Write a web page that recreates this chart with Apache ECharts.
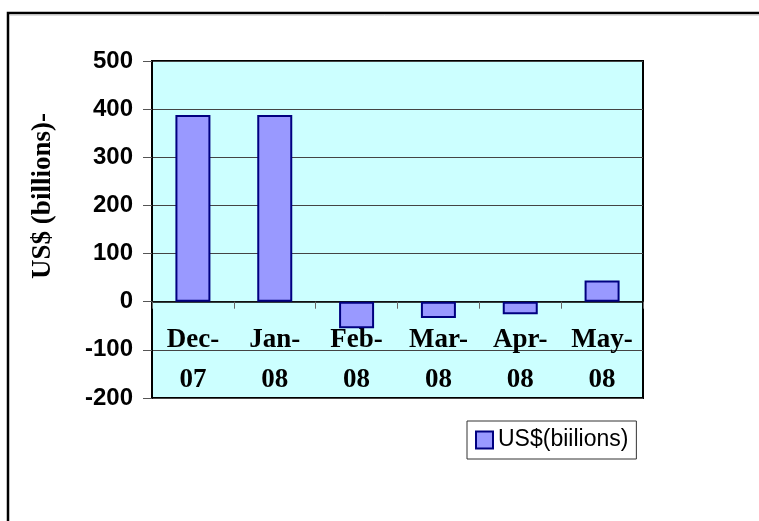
<!DOCTYPE html>
<html>
<head>
<meta charset="utf-8">
<script src="https://cdn.jsdelivr.net/npm/echarts@6/dist/echarts.min.js"></script>
<style>
  html, body { margin: 0; padding: 0; background: #fff; }
  #chart1 { width: 759px; height: 521px; }
</style>
</head>
<body>
<div id="chart1"></div>
<script>
var months = ['Dec-07', 'Jan-08', 'Feb-08', 'Mar-08', 'Apr-08', 'May-08'];
var values = [388, 388, -55, -34, -26, 44];
var seriesName = 'US$(biilions)';
var axisTitle = 'US$ (billions)-';

var chart1 = echarts.init(document.getElementById("chart1"));
chart1.setOption({
    animation: false,
    backgroundColor: '#fff',
    graphic: [
        {
            // outer frame (only top and left edges show)
            type: 'polyline',
            shape: { points: [[8, 521], [8, 13], [759, 13]] },
            style: { stroke: '#000', lineWidth: 2.5, fill: null }
        },
        {
            type: 'line',
            shape: { x1: 10, y1: 15.5, x2: 759, y2: 15.5 },
            style: { stroke: '#ddd', lineWidth: 1 }
        },
        {
            // value axis title
            type: 'text',
            x: 43,
            y: 196,
            rotation: Math.PI / 2,
            style: {
                text: axisTitle,
                fontFamily: 'Liberation Serif, Times New Roman, serif',
                fontWeight: 'bold',
                fontSize: 27,
                fill: '#000',
                align: 'center',
                verticalAlign: 'middle'
            }
        }
    ],
    grid: {
        left: 152,
        top: 61,
        width: 491,
        height: 337,
        show: true,
        backgroundColor: '#ccffff',
        borderColor: '#000',
        borderWidth: 2
    },
    legend: {
        left: 467,
        top: 421,
        padding: [5, 8, 5, 8],
        borderColor: '#333',
        borderWidth: 1,
        backgroundColor: '#fff',
        itemWidth: 17,
        itemHeight: 17,
        itemGap: 4,
        icon: 'rect',
        textStyle: {
            fontFamily: 'Liberation Sans, Arial, sans-serif',
            fontSize: 23,
            color: '#000',
            lineHeight: 28
        },
        data: [seriesName]
    },
    xAxis: {
        type: 'category',
        data: months,
        axisLine: { onZero: true, lineStyle: { color: '#000', width: 1.5 } },
        axisTick: { show: true, length: 7, lineStyle: { color: '#666' } },
        axisLabel: {
            margin: -78,
            fontFamily: 'Liberation Serif, Times New Roman, serif',
            fontWeight: 'bold',
            fontSize: 27,
            lineHeight: 40,
            color: '#000',
            formatter: function (v) {
                var p = v.split('-');
                return p[0] + '-\n' + p[1];
            }
        },
        splitLine: { show: false }
    },
    yAxis: {
        type: 'value',
        min: -200,
        max: 500,
        interval: 100,
        axisLine: { show: true, lineStyle: { color: '#000', width: 2 } },
        axisTick: { show: true, length: 9, lineStyle: { color: '#555' } },
        axisLabel: {
            margin: 19,
            fontFamily: 'Liberation Sans, Arial, sans-serif',
            fontWeight: 'bold',
            fontSize: 24,
            color: '#000'
        },
        splitLine: { show: true, lineStyle: { color: '#444', width: 1 } }
    },
    series: [
        {
            name: seriesName,
            type: 'bar',
            barWidth: 35,
            data: values,
            itemStyle: {
                color: '#9999ff',
                borderColor: '#000080',
                borderWidth: 2
            }
        }
    ]
});
</script>
</body>
</html>
